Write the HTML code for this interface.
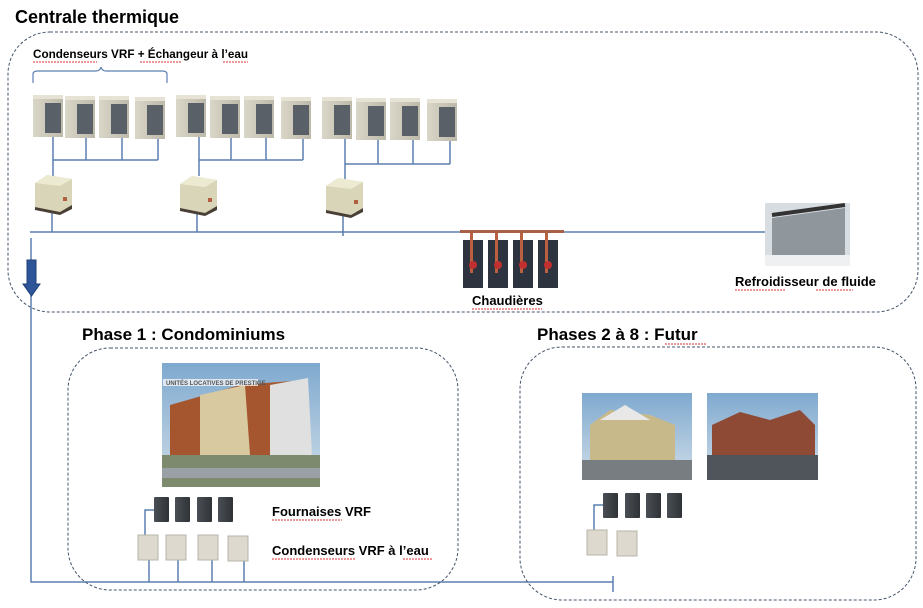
<!DOCTYPE html>
<html><head><meta charset="utf-8"><style>
body{margin:0;background:#fff}
svg{display:block}
text{font-family:"Liberation Sans",Arial,sans-serif;font-weight:bold;fill:#000}
.sq{stroke:#d33;stroke-width:1;fill:none;stroke-dasharray:2 1}
</style></head><body>
<svg width="923" height="608" viewBox="0 0 923 608" xmlns="http://www.w3.org/2000/svg">
<defs>
<linearGradient id="cu" x1="0" y1="0" x2="1" y2="0"><stop offset="0" stop-color="#d9d6c8"/><stop offset="1" stop-color="#bdb9aa"/></linearGradient>
<linearGradient id="sky" x1="0" y1="0" x2="0" y2="1"><stop offset="0" stop-color="#7fa9cf"/><stop offset="1" stop-color="#cfdde8"/></linearGradient>
<linearGradient id="dk" x1="0" y1="0" x2="1" y2="0"><stop offset="0" stop-color="#4a4f55"/><stop offset="1" stop-color="#2f3338"/></linearGradient>
<g id="cond"><rect x="0" y="0" width="30" height="42" fill="url(#cu)"/><rect x="12" y="8" width="16" height="30" fill="#5a6068"/><rect x="0" y="0" width="30" height="4" fill="#e6e3d6"/></g>
<g id="hx"><path d="M0 8 L12 0 L37 4 L37 30 L25 37 L0 32Z" fill="#d8d5b8"/><path d="M0 8 L12 0 L37 4 L25 11Z" fill="#ecebd2"/><path d="M0 32 L25 37 L37 30 L37 34 L25 40 L0 35Z" fill="#4a3f35"/><rect x="28" y="22" width="4" height="4" fill="#b06040"/></g>
<g id="dku"><rect x="0" y="0" width="15" height="25" fill="url(#dk)" rx="1"/></g>
<g id="lt"><rect x="0" y="0" width="20" height="25" fill="#ddd9ce" stroke="#b8b4a8"/></g>
</defs>

<!-- Centrale thermique box -->
<rect x="8" y="32" width="910" height="280" rx="42" fill="none" stroke="#44546a" stroke-dasharray="3 2" stroke-width="1"/>
<text x="15" y="23" font-size="18">Centrale thermique</text>
<text x="33" y="58" font-size="11.5" textLength="215" lengthAdjust="spacingAndGlyphs">Condenseurs VRF + Échangeur à l’eau</text>
<path d="M33 62 h64 M140 62 h41 M223 62 h25" class="sq"/>
<path d="M33 83 V74 Q33 71 38 71 H96 Q100 71 101 67 Q102 71 106 71 H162 Q167 71 167 74 V83" fill="none" stroke="#5b7fb0" stroke-width="1.2"/>

<g stroke="#5b7fb0" stroke-width="1.5" fill="none">
<path d="M53 137 V176 M53 160 H158 M86 137 V160 M122 137 V160 M158 137 V160"/>
<path d="M199 137 V176 M199 160 H303 M231 137 V160 M266 137 V160 M303 137 V160"/>
<path d="M345 137 V179 M345 164 H450 M378 137 V164 M413 137 V164 M450 137 V164"/>
<path d="M52 212 V232 M197 212 V232 M343 215 V236"/>
<path d="M30 232 H765"/>
<path d="M31 238 V582 H613 M613 576 V592"/>
<path d="M145 535 V510 H154"/>
<path d="M149 560 V582 M178 560 V582 M212 560 V582 M244 560 V582"/>
<path d="M594 530 V505 H603"/>
</g>
<!-- arrow -->
<path d="M27 260 H36 V284 H40 L31.5 296 L23 284 H27Z" fill="#2e5597" stroke="#1f3f75"/>

<use href="#cond" x="33" y="95"/><use href="#cond" x="65" y="96"/><use href="#cond" x="99" y="96"/><use href="#cond" x="135" y="97"/>
<use href="#cond" x="176" y="95"/><use href="#cond" x="210" y="96"/><use href="#cond" x="244" y="96"/><use href="#cond" x="281" y="97"/>
<use href="#cond" x="322" y="97"/><use href="#cond" x="356" y="98"/><use href="#cond" x="390" y="98"/><use href="#cond" x="427" y="99"/>
<use href="#hx" x="35" y="175"/><use href="#hx" x="180" y="176"/><use href="#hx" x="326" y="178"/>

<!-- Chaudieres -->
<rect x="460" y="230" width="104" height="3" fill="#a86048"/>
<g>
<rect x="463" y="240" width="20" height="48" fill="#2d3440"/><rect x="488" y="240" width="20" height="48" fill="#2d3440"/><rect x="513" y="240" width="20" height="48" fill="#2d3440"/><rect x="538" y="240" width="20" height="48" fill="#2d3440"/>
<rect x="470" y="233" width="3" height="40" fill="#b86040"/><rect x="495" y="233" width="3" height="40" fill="#b86040"/><rect x="520" y="233" width="3" height="40" fill="#b86040"/><rect x="545" y="233" width="3" height="40" fill="#b86040"/>
<circle cx="473" cy="265" r="4" fill="#c03030"/><circle cx="498" cy="265" r="4" fill="#c03030"/><circle cx="523" cy="265" r="4" fill="#c03030"/><circle cx="548" cy="265" r="4" fill="#c03030"/>
</g>
<text x="472" y="305" font-size="13">Chaudières</text>
<path d="M472 309 h70" class="sq"/>

<!-- Refroidisseur -->
<rect x="765" y="203" width="85" height="63" fill="#d8dde2"/>
<path d="M772 218 L845 208 L845 255 L772 258Z" fill="#8f969c"/>
<path d="M772 215 L845 205" stroke="#333" stroke-width="4"/>
<rect x="765" y="255" width="85" height="11" fill="#eef0f2"/>
<text x="735" y="286" font-size="13">Refroidisseur de fluide</text>
<path d="M735 290 h50 M816 290 h37" class="sq"/>

<!-- Phase 1 -->
<text x="82" y="340" font-size="17">Phase 1 : Condominiums</text>
<rect x="68" y="348" width="390" height="242" rx="42" fill="none" stroke="#44546a" stroke-dasharray="3 2"/>
<rect x="162" y="363" width="158" height="124" fill="url(#sky)"/>
<path d="M170 405 L240 385 L305 380 L312 455 L170 455Z" fill="#a6562f"/>
<path d="M200 395 L245 385 L250 455 L200 455Z" fill="#d8c9a0"/>
<path d="M270 385 L308 378 L312 455 L270 455Z" fill="#e0e0e0"/>
<rect x="162" y="455" width="158" height="32" fill="#7d8a6e"/>
<rect x="162" y="468" width="158" height="10" fill="#9aa0a5"/>
<rect x="163" y="379" width="95" height="7" fill="#fff" opacity="0.7"/>
<text x="166" y="385" font-size="6" fill="#555" style="fill:#555">UNITÉS LOCATIVES DE PRESTIGE</text>
<use href="#dku" x="154" y="497"/><use href="#dku" x="175" y="497"/><use href="#dku" x="197" y="497"/><use href="#dku" x="218" y="497"/>
<use href="#lt" x="138" y="535"/><use href="#lt" x="166" y="535"/><use href="#lt" x="198" y="535"/><use href="#lt" x="228" y="536"/>
<text x="272" y="516" font-size="13">Fournaises VRF</text>
<path d="M272 520 h70" class="sq"/>
<text x="272" y="555" font-size="13">Condenseurs VRF à l’eau</text>
<path d="M272 559 h83 M403 559 h30" class="sq"/>

<!-- Phase 2 -->
<text x="537" y="340" font-size="17">Phases 2 à 8 : Futur</text>
<path d="M665 344 h42" class="sq"/>
<rect x="520" y="347" width="396" height="253" rx="42" fill="none" stroke="#44546a" stroke-dasharray="3 2"/>
<rect x="582" y="393" width="110" height="87" fill="url(#sky)"/>
<path d="M590 425 L610 410 L650 415 L675 425 L675 460 L590 460Z" fill="#c8b98a"/>
<path d="M600 420 L625 405 L650 420Z" fill="#e8e8e8"/>
<rect x="582" y="460" width="110" height="20" fill="#777d80"/>
<rect x="707" y="393" width="111" height="87" fill="url(#sky)"/>
<path d="M712 425 L740 412 L770 420 L800 410 L815 425 L815 455 L712 455Z" fill="#8e4a35"/>
<rect x="707" y="455" width="111" height="25" fill="#4f555a"/>
<use href="#dku" x="603" y="493"/><use href="#dku" x="625" y="493"/><use href="#dku" x="646" y="493"/><use href="#dku" x="667" y="493"/>
<use href="#lt" x="587" y="530"/><use href="#lt" x="617" y="531"/>
</svg>
</body></html>
